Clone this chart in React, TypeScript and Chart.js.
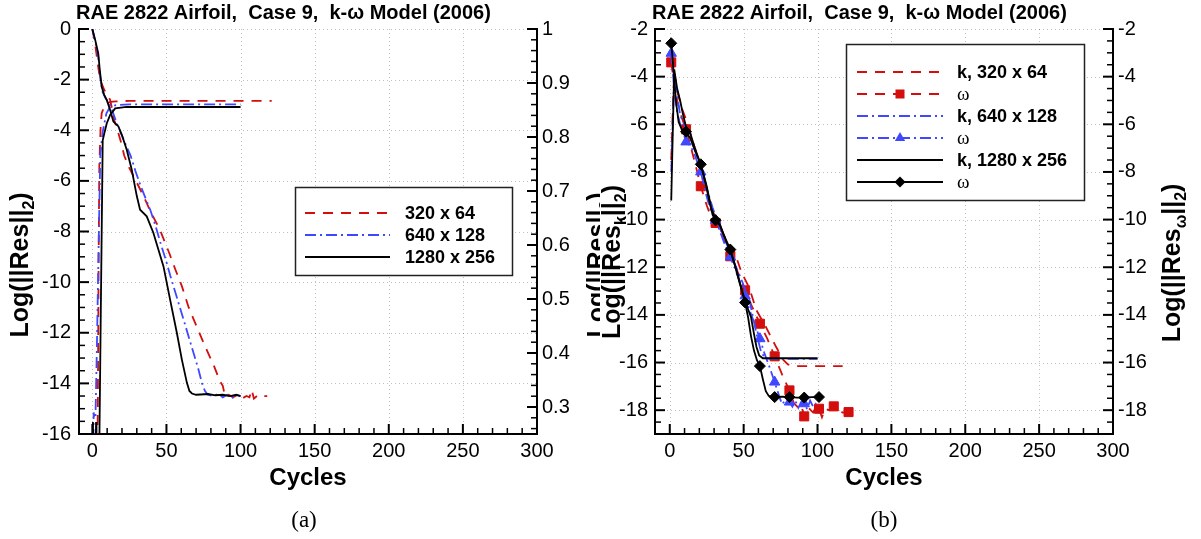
import React, { useEffect, useRef } from 'react';
import { Chart, registerables } from 'chart.js';

Chart.register(...registerables);

const SANS = "'Liberation Sans', Arial, Helvetica, sans-serif";
const SERIF = "'Liberation Serif', 'Times New Roman', serif";

const RED = '#d40d0d';
const BLUE = '#3f48ff';
const BLACK = '#000000';
const DASH_RED = [10, 8];
const DASH_BLUE = [11, 4, 2, 4];
const SOLID: number[] = [];

// ---------------- panel (a): residual (left axis) ----------------
const aRes320Cyc = [0, 1.8, 3.5, 5.2, 8, 12, 14.2, 15, 17, 19, 21.5, 25, 29, 34.5, 40, 45.4, 52.2, 56, 60.4, 65, 70, 76, 82, 86, 88, 89.5, 92, 95, 98, 101, 104, 106, 107.5, 109, 112, 115, 118];
const aRes320Val = [0, -0.56, -1.3, -2.0, -2.4, -2.8, -3.4, -3.65, -4.0, -4.4, -5.0, -5.5, -5.95, -6.6, -7.3, -7.9, -8.9, -9.5, -10.16, -11.0, -11.7, -12.53, -13.3, -13.9, -14.1, -14.5, -14.45, -14.55, -14.45, -14.6, -14.5, -14.55, -14.25, -14.6, -14.45, -14.5, -14.5];

const aRes640Cyc = [0, 2, 4, 5.5, 7, 9, 11.2, 13, 14.5, 17, 19, 22, 25.8, 29, 32.6, 36, 39.4, 43, 46.2, 49.5, 52.5, 57, 62, 67, 71.6, 74, 76, 78, 82, 85, 88, 91, 94, 97, 100];
const aRes640Val = [0, -0.5, -1.1, -2.0, -2.5, -2.75, -2.9, -3.15, -3.4, -3.8, -4.07, -4.5, -5.0, -5.6, -6.2, -6.7, -7.2, -7.85, -8.5, -9.1, -9.73, -10.6, -11.57, -12.55, -13.45, -14.0, -14.3, -14.45, -14.5, -14.4, -14.55, -14.45, -14.6, -14.45, -14.5];

const aRes1280Cyc = [0, 2, 4, 5, 6.3, 8, 9.7, 12, 14.2, 17.6, 20, 23.2, 26.6, 30, 32.2, 36.7, 41.2, 44.5, 48, 52.5, 57, 60.4, 63.8, 65.5, 67.2, 70, 73, 78, 83, 88, 93, 97, 100];
const aRes1280Val = [0, -0.45, -0.96, -1.6, -2.28, -2.6, -2.8, -3.2, -3.66, -3.85, -4.2, -4.77, -5.56, -6.6, -7.14, -7.4, -8.06, -8.7, -9.38, -10.7, -12.0, -13.06, -13.98, -14.3, -14.4, -14.45, -14.44, -14.42, -14.47, -14.45, -14.5, -14.45, -14.5];

// ---------------- panel (a): lift coefficient (right axis) ----------------
const aCl320Cyc = [3.3, 3.7, 4.2, 4.7, 5.6, 6.3, 8, 10, 12, 16, 25, 121];
const aCl320Val = [0.2, 0.3, 0.55, 0.745, 0.819, 0.844, 0.856, 0.862, 0.865, 0.866, 0.867, 0.867];

const aCl640Cyc = [0.6, 0.9, 1.3, 2.1, 3, 4.4, 5.4, 7, 9.5, 12, 16, 25, 100];
const aCl640Val = [0.2, 0.29, 0.28, 0.28, 0.4, 0.622, 0.77, 0.81, 0.844, 0.856, 0.859, 0.8606, 0.8606];

const aCl1280Cyc = [0.2, 0.4, 0.7, 2.2, 2.5, 2.8, 4.6, 5.6, 6.3, 7, 8.1, 9.7, 12, 15.4, 23, 100];
const aCl1280Val = [0.2, 0.272, 0.2, 0.2, 0.272, 0.2, 0.2, 0.45, 0.622, 0.794, 0.807, 0.825, 0.841, 0.853, 0.8556, 0.8556];

// ---------------- panel (b): k and omega residuals ----------------
const bK320Cyc = [1, 2, 3, 5, 8, 11, 14, 18, 21, 25, 30, 35, 40, 44, 48.5, 54, 58.6, 65, 72, 77, 80, 84, 117];
const bK320Val = [-7.5, -5.5, -3.8, -4.6, -5.3, -5.8, -6.4, -7.2, -7.9, -8.8, -9.8, -10.5, -11.0, -11.4, -12.2, -12.9, -13.8, -14.5, -15.35, -15.9, -16.08, -16.15, -16.15];

const bW320Cyc = [1, 3, 5, 8, 11, 14, 17, 21, 25, 28, 31, 35, 38, 41, 46, 51, 56, 61, 66, 71, 76, 81, 84, 87, 89, 91, 94, 97, 99, 101, 103, 105, 108, 111, 114, 117, 121];
const bW320Val = [-3.4, -4.3, -5.0, -5.7, -6.21, -6.9, -7.6, -8.6, -9.4, -9.9, -10.14, -10.6, -11.1, -11.54, -12.2, -12.97, -13.7, -14.37, -15.0, -15.74, -16.5, -17.17, -17.7, -17.9, -17.8, -18.26, -17.9, -18.1, -17.85, -17.94, -18.3, -17.95, -18.0, -17.84, -18.0, -18.1, -18.08];

const bK640Cyc = [1, 3, 5, 7, 9, 11, 14, 17, 21, 25, 29, 33, 37, 41, 45, 49, 54, 58.7, 62, 65, 68, 100];
const bK640Val = [-8.0, -3.9, -4.8, -5.6, -5.9, -6.2, -6.5, -7.1, -7.8, -8.7, -9.5, -10.2, -10.8, -11.4, -12.0, -12.6, -13.4, -14.8, -15.6, -15.82, -15.85, -15.85];

const bW640Cyc = [1, 3, 5, 7, 9, 11, 14, 17, 21, 24, 27, 31, 34, 37, 41, 45, 48, 51, 54, 57, 61, 64, 67, 71, 74, 76, 78, 81, 83, 85, 87, 89, 91, 93, 95, 97, 99];
const bW640Val = [-3.02, -4.5, -5.5, -6.0, -6.3, -6.74, -6.9, -7.3, -8.0, -8.8, -9.5, -10.03, -10.5, -11.0, -11.57, -12.2, -12.7, -13.2, -13.8, -14.3, -15.0, -15.6, -16.1, -16.82, -17.4, -17.75, -17.6, -17.66, -17.85, -17.6, -17.9, -17.65, -17.73, -17.95, -17.6, -17.85, -17.7];

const bK1280Cyc = [1, 3, 5, 7, 9, 11, 14, 17, 21, 25, 28, 31, 34, 38, 41, 45, 49, 52, 55, 57, 58.7, 60.5, 63, 100];
const bK1280Val = [-9.2, -3.7, -4.5, -5.0, -5.6, -6.1, -6.4, -7.0, -7.7, -8.6, -9.5, -10.0, -10.2, -10.9, -11.3, -12.1, -13.0, -13.6, -14.1, -14.8, -15.35, -15.7, -15.82, -15.82];

const bW1280Cyc = [1, 2, 3, 4.5, 6, 8, 11, 14, 17, 21, 24, 27, 29, 31, 34, 37, 41, 44, 47, 51, 53, 55, 57, 59, 61, 63, 65, 67, 71, 76, 81, 86, 91, 96, 101];
const bW1280Val = [-2.6, -3.3, -4.2, -5.2, -5.9, -6.2, -6.31, -6.6, -7.1, -7.68, -8.4, -9.3, -9.8, -10.03, -10.25, -10.7, -11.26, -11.9, -12.6, -13.48, -14.1, -14.9, -15.5, -15.9, -16.15, -16.7, -17.2, -17.4, -17.45, -17.43, -17.45, -17.47, -17.47, -17.45, -17.45];

const bMarkCycles = [1, 11, 21, 31, 41, 51, 61, 71, 81, 91, 101, 111, 121];

// ---------------- ticks & labels ----------------
const xTickValues = [0, 50, 100, 150, 200, 250, 300];
const aResTicks = [0, -2, -4, -6, -8, -10, -12, -14, -16];
const aClTicks = [1, 0.9, 0.8, 0.7, 0.6, 0.5, 0.4, 0.3];
const bTicks = [-2, -4, -6, -8, -10, -12, -14, -16, -18];

const TITLE = 'RAE 2822 Airfoil,  Case 9,  k-\u03c9 Model (2006)';
const X_TITLE = 'Cycles';
const aLegendLabels = ['320 x 64', '640 x 128', '1280 x 256'];
const bLegendLabels = ['k, 320 x 64', '\u03c9', 'k, 640 x 128', '\u03c9', 'k, 1280 x 256', '\u03c9'];

type Part = { t: string; sub?: boolean };
type AxisSpec = { min: number; max: number; ticks: number[]; minor: number; minorFrom: number; size: number; pad: number };
type LegendRow = { y: number; color: string; dash: number[]; label: string; marker?: string; omega?: boolean };
type PanelSpec = {
  key: string;
  x: AxisSpec; yl: AxisSpec; yr: AxisSpec;
  datasets: any[];
  titleX: number;
  yTitleL: Part[]; yTitleR: Part[];
  yTitleLx: number; yTitleRx: number; yTitleLcy: number; yTitleRcy: number;
  legendBox: [number, number, number, number];
  sampleX: [number, number]; markerX: number; textX: number;
  legendRows: LegendRow[];
};

const pts = (c: number[], v: number[]) => c.map((x, i) => ({ x, y: v[i] }));

function line(cyc: number[], val: number[], color: string, dash: number[], axis: string, extra: any = {}) {
  return {
    data: pts(cyc, val), showLine: true, borderColor: color, backgroundColor: color,
    borderWidth: 1.8, borderDash: dash, yAxisID: axis, pointRadius: 0, pointHoverRadius: 0,
    fill: false, tension: 0, ...extra,
  };
}

function markerOpts(style: string, r: number, color: string) {
  return {
    pointStyle: style,
    pointRadius: (c: any) => (c.raw && bMarkCycles.includes(c.raw.x) ? r : 0),
    pointBackgroundColor: color, pointBorderColor: color, pointBorderWidth: 1,
  };
}

function drawMarker(ctx: CanvasRenderingContext2D, kind: string, x: number, y: number, color: string) {
  ctx.save();
  ctx.setLineDash([]);
  ctx.fillStyle = color;
  ctx.beginPath();
  if (kind === 'rect') {
    ctx.rect(x - 4.5, y - 4.5, 9, 9);
  } else if (kind === 'triangle') {
    const r = 6;
    ctx.moveTo(x, y - r); ctx.lineTo(x + r * 0.866, y + r / 2); ctx.lineTo(x - r * 0.866, y + r / 2); ctx.closePath();
  } else {
    const r = 5.5;
    ctx.moveTo(x, y - r); ctx.lineTo(x + r, y); ctx.lineTo(x, y + r); ctx.lineTo(x - r, y); ctx.closePath();
  }
  ctx.fill();
  ctx.restore();
}

function drawRotated(ctx: CanvasRenderingContext2D, parts: Part[], bx: number, cy: number, size: number) {
  const main = `bold ${size}px ${SANS}`;
  const sub = `bold ${Math.round(size * 0.62)}px ${SANS}`;
  ctx.save();
  ctx.translate(bx, cy);
  ctx.rotate(-Math.PI / 2);
  ctx.fillStyle = '#000';
  ctx.textAlign = 'left';
  ctx.textBaseline = 'alphabetic';
  const widths = parts.map((p) => { ctx.font = p.sub ? sub : main; return ctx.measureText(p.t).width; });
  const total = widths.reduce((s, w) => s + w, 0);
  let x = -total / 2;
  parts.forEach((p, i) => {
    ctx.font = p.sub ? sub : main;
    ctx.fillText(p.t, x, p.sub ? size * 0.22 : 0);
    x += widths[i];
  });
  ctx.restore();
}

function makeDecor(p: PanelSpec) {
  return {
    id: 'decor_' + p.key,
    beforeDatasetsDraw(chart: any) {
      const { ctx, chartArea: a, scales } = chart;
      ctx.save();
      ctx.strokeStyle = 'rgba(0,0,0,0.25)';
      ctx.lineWidth = 1;
      ctx.setLineDash([1, 3]);
      ctx.beginPath();
      for (const v of p.x.ticks) {
        const px = Math.round(scales.x.getPixelForValue(v)) + 0.5;
        ctx.moveTo(px, a.top); ctx.lineTo(px, a.bottom);
      }
      for (const v of p.yl.ticks) {
        const py = Math.round(scales.y.getPixelForValue(v)) + 0.5;
        ctx.moveTo(a.left, py); ctx.lineTo(a.right, py);
      }
      ctx.stroke();
      ctx.restore();
    },
    afterDatasetsDraw(chart: any) {
      const { ctx, chartArea: a, scales } = chart;
      ctx.save();
      ctx.strokeStyle = '#000';
      ctx.setLineDash([]);
      const drawTicks = (spec: AxisSpec, scale: any, side: string) => {
        const minors: number[] = [];
        const n0 = Math.ceil(spec.minorFrom / spec.minor - 1e-6);
        for (let k = n0; k * spec.minor <= spec.max + 1e-9; k++) {
          const v = +(k * spec.minor).toFixed(6);
          if (v < spec.min - 1e-9) continue;
          if (spec.ticks.some((m) => Math.abs(m - v) < 1e-6)) continue;
          minors.push(v);
        }
        const seg = (v: number, len: number, w: number) => {
          const pos = scale.getPixelForValue(v);
          ctx.lineWidth = w;
          ctx.beginPath();
          if (side === 'bottom') { ctx.moveTo(pos, a.bottom); ctx.lineTo(pos, a.bottom - len); }
          else if (side === 'left') { ctx.moveTo(a.left, pos); ctx.lineTo(a.left + len, pos); }
          else { ctx.moveTo(a.right, pos); ctx.lineTo(a.right - len, pos); }
          ctx.stroke();
        };
        minors.forEach((v) => seg(v, 6, 1.5));
        spec.ticks.forEach((v) => seg(v, 10, 2));
      };
      drawTicks(p.x, scales.x, 'bottom');
      drawTicks(p.yl, scales.y, 'left');
      drawTicks(p.yr, scales.y2, 'right');

      // title
      ctx.fillStyle = '#000';
      ctx.textAlign = 'left';
      ctx.textBaseline = 'alphabetic';
      ctx.font = `bold 20px ${SANS}`;
      ctx.fillText(TITLE, p.titleX, 19);

      // x title
      ctx.textAlign = 'center';
      ctx.font = `bold 24px ${SANS}`;
      ctx.fillText(X_TITLE, (a.left + a.right) / 2, 485);

      // y titles
      drawRotated(ctx, p.yTitleL, p.yTitleLx, p.yTitleLcy, 25);
      drawRotated(ctx, p.yTitleR, p.yTitleRx, p.yTitleRcy, 25);

      // legend
      const [x1, y1, x2, y2] = p.legendBox;
      ctx.fillStyle = '#fff';
      ctx.fillRect(x1, y1, x2 - x1, y2 - y1);
      ctx.strokeStyle = '#222';
      ctx.lineWidth = 1.5;
      ctx.strokeRect(x1 + 0.5, y1 + 0.5, x2 - x1, y2 - y1);
      p.legendRows.forEach((r) => {
        ctx.save();
        ctx.strokeStyle = r.color;
        ctx.lineWidth = 1.8;
        ctx.setLineDash(r.dash);
        ctx.beginPath();
        ctx.moveTo(p.sampleX[0], r.y);
        ctx.lineTo(p.sampleX[1], r.y);
        ctx.stroke();
        ctx.restore();
        if (r.marker) drawMarker(ctx, r.marker, p.markerX, r.y, r.color);
        ctx.fillStyle = '#000';
        ctx.textAlign = 'left';
        ctx.textBaseline = 'middle';
        ctx.font = r.omega ? `19px ${SERIF}` : `bold 18px ${SANS}`;
        ctx.fillText(r.label, p.textX, r.y + 1);
      });
      ctx.restore();
    },
  };
}

function buildConfig(p: PanelSpec): any {
  const mkScale = (spec: AxisSpec, position: string, horizontal: boolean) => ({
    type: 'linear', position, min: spec.min, max: spec.max,
    afterBuildTicks: (s: any) => { s.ticks = spec.ticks.slice().sort((u, v) => u - v).map((v) => ({ value: v })); },
    afterFit: (s: any) => { if (horizontal) s.height = spec.size; else s.width = spec.size; },
    ticks: {
      font: { family: SANS, size: 20 }, color: '#000', padding: spec.pad,
      autoSkip: false, maxRotation: 0, minRotation: 0, callback: (v: any) => String(v),
    },
    grid: { display: false, drawTicks: false },
    border: { display: true, color: '#000', width: 2 },
  });
  return {
    type: 'scatter',
    data: { datasets: p.datasets },
    options: {
      animation: false, responsive: false, maintainAspectRatio: false,
      events: [],
      layout: { padding: { top: 29, left: 0, right: 0, bottom: 0 } },
      plugins: { legend: { display: false }, title: { display: false }, tooltip: { enabled: false } },
      scales: {
        x: mkScale(p.x, 'bottom', true),
        y: mkScale(p.yl, 'left', false),
        y2: mkScale(p.yr, 'right', false),
      },
    },
    plugins: [makeDecor(p)],
  };
}

const aTitleParts: Part[] = [{ t: 'Log(||Res||' }, { t: '2', sub: true }, { t: ')' }];
const bTitleLParts: Part[] = [{ t: 'Log(||Res' }, { t: 'k', sub: true }, { t: '||' }, { t: '2', sub: true }, { t: ')' }];
const bTitleRParts: Part[] = [{ t: 'Log(||Res' }, { t: '\u03c9', sub: true }, { t: '||' }, { t: '2', sub: true }, { t: ')' }];

function panelA(): PanelSpec {
  return {
    key: 'a',
    x: { min: -9, max: 300, ticks: xTickValues, minor: 10, minorFrom: 0, size: 105, pad: 5 },
    yl: { min: -16, max: 0, ticks: aResTicks, minor: 0.5, minorFrom: -16, size: 79, pad: 8 },
    yr: { min: 0.25, max: 1, ticks: aClTicks, minor: 0.02, minorFrom: 0.26, size: 63, pad: 5 },
    datasets: [
      line(aRes1280Cyc, aRes1280Val, BLACK, SOLID, 'y'),
      line(aCl1280Cyc, aCl1280Val, BLACK, SOLID, 'y2'),
      line(aRes640Cyc, aRes640Val, BLUE, DASH_BLUE, 'y'),
      line(aCl640Cyc, aCl640Val, BLUE, DASH_BLUE, 'y2'),
      line(aRes320Cyc, aRes320Val, RED, DASH_RED, 'y'),
      line(aCl320Cyc, aCl320Val, RED, DASH_RED, 'y2'),
    ],
    titleX: 76,
    yTitleL: aTitleParts, yTitleR: aTitleParts,
    yTitleLx: 28, yTitleRx: 605, yTitleLcy: 265, yTitleRcy: 265,
    legendBox: [295, 187, 512, 275],
    sampleX: [305, 390], markerX: 348, textX: 405,
    legendRows: [
      { y: 213, color: RED, dash: DASH_RED, label: aLegendLabels[0] },
      { y: 235, color: BLUE, dash: DASH_BLUE, label: aLegendLabels[1] },
      { y: 257, color: BLACK, dash: SOLID, label: aLegendLabels[2] },
    ],
  };
}

function panelB(): PanelSpec {
  return {
    key: 'b',
    x: { min: -10, max: 300, ticks: xTickValues, minor: 10, minorFrom: 0, size: 105, pad: 5 },
    yl: { min: -19, max: -2, ticks: bTicks, minor: 0.5, minorFrom: -19, size: 55, pad: 7 },
    yr: { min: -19, max: -2, ticks: bTicks, minor: 0.5, minorFrom: -19, size: 88, pad: 5 },
    datasets: [
      line(bW1280Cyc, bW1280Val, BLACK, SOLID, 'y', markerOpts('rectRot', 5.5, BLACK)),
      line(bK1280Cyc, bK1280Val, BLACK, SOLID, 'y'),
      line(bW640Cyc, bW640Val, BLUE, DASH_BLUE, 'y', markerOpts('triangle', 6, BLUE)),
      line(bK640Cyc, bK640Val, BLUE, DASH_BLUE, 'y'),
      line(bW320Cyc, bW320Val, RED, DASH_RED, 'y', markerOpts('rect', 6.4, RED)),
      line(bK320Cyc, bK320Val, RED, DASH_RED, 'y'),
    ],
    titleX: 52,
    yTitleL: bTitleLParts, yTitleR: bTitleRParts,
    yTitleLx: 20, yTitleRx: 580, yTitleLcy: 262, yTitleRcy: 263,
    legendBox: [246, 44, 484, 200],
    sampleX: [257, 343], markerX: 300, textX: 357,
    legendRows: [
      { y: 72, color: RED, dash: DASH_RED, label: bLegendLabels[0] },
      { y: 94, color: RED, dash: DASH_RED, label: bLegendLabels[1], marker: 'rect', omega: true },
      { y: 116, color: BLUE, dash: DASH_BLUE, label: bLegendLabels[2] },
      { y: 138, color: BLUE, dash: DASH_BLUE, label: bLegendLabels[3], marker: 'triangle', omega: true },
      { y: 160, color: BLACK, dash: SOLID, label: bLegendLabels[4] },
      { y: 182, color: BLACK, dash: SOLID, label: bLegendLabels[5], marker: 'diamond', omega: true },
    ],
  };
}

export default function App() {
  const refA = useRef<HTMLCanvasElement>(null);
  const refB = useRef<HTMLCanvasElement>(null);
  useEffect(() => {
    const ca = new Chart(refA.current as HTMLCanvasElement, buildConfig(panelA()));
    const cb = new Chart(refB.current as HTMLCanvasElement, buildConfig(panelB()));
    return () => { ca.destroy(); cb.destroy(); };
  }, []);
  const cap: React.CSSProperties = {
    position: 'absolute', top: 506, width: 100, textAlign: 'center',
    fontFamily: SERIF, fontSize: 23, color: '#000', lineHeight: '28px',
  };
  return (
    <div style={{ position: 'absolute', left: 0, top: 0, width: 1201, height: 539, background: '#fff', overflow: 'hidden' }}>
      <canvas ref={refA} width={600} height={539} style={{ position: 'absolute', left: 0, top: 0, width: 600, height: 539 }} />
      <canvas ref={refB} width={601} height={539} style={{ position: 'absolute', left: 600, top: 0, width: 601, height: 539 }} />
      <div style={{ ...cap, left: 254 }}>(a)</div>
      <div style={{ ...cap, left: 834 }}>(b)</div>
    </div>
  );
}
